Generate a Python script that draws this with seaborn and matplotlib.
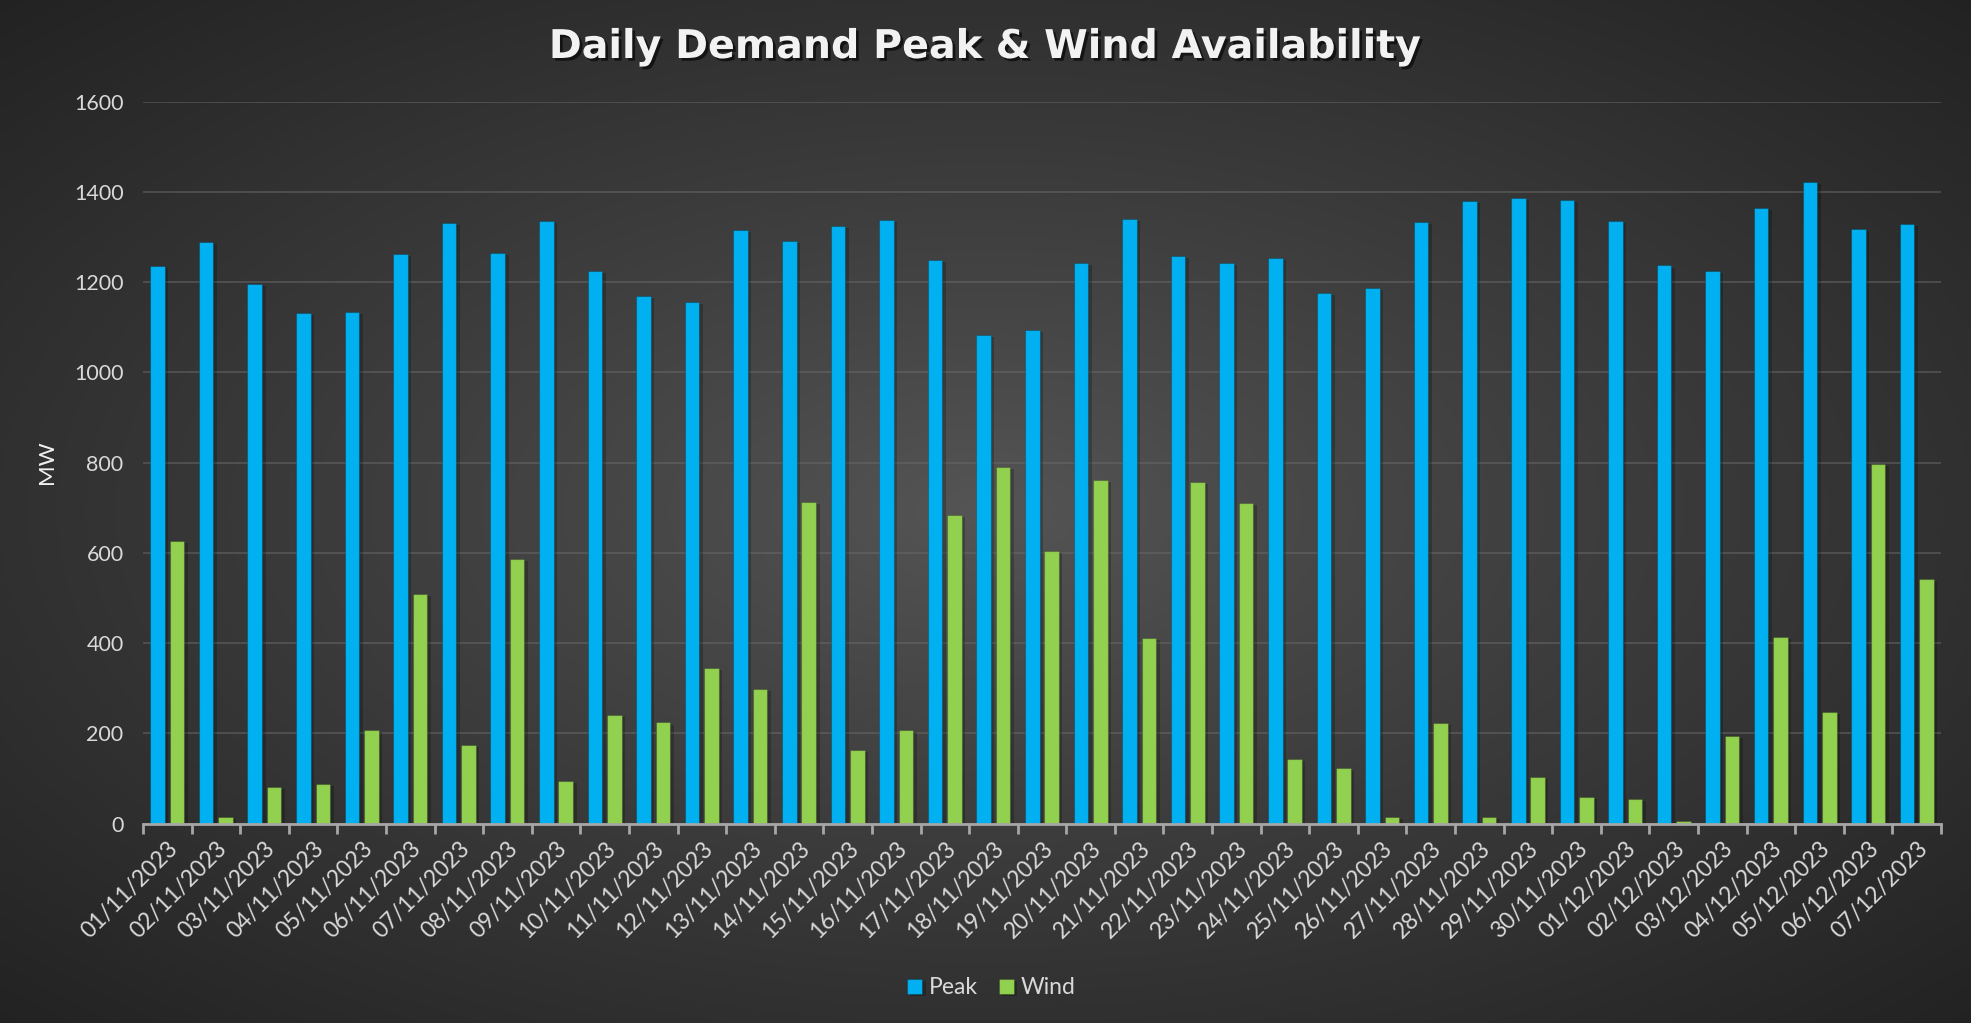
import numpy as np
import pandas as pd
import matplotlib
matplotlib.use("Agg")
import matplotlib.pyplot as plt
import matplotlib.patheffects as pe
from matplotlib.ticker import FixedLocator
import seaborn as sns

# ---- data ----
dates = ["01/11/2023", "02/11/2023", "03/11/2023", "04/11/2023", "05/11/2023",
         "06/11/2023", "07/11/2023", "08/11/2023", "09/11/2023", "10/11/2023",
         "11/11/2023", "12/11/2023", "13/11/2023", "14/11/2023", "15/11/2023",
         "16/11/2023", "17/11/2023", "18/11/2023", "19/11/2023", "20/11/2023",
         "21/11/2023", "22/11/2023", "23/11/2023", "24/11/2023", "25/11/2023",
         "26/11/2023", "27/11/2023", "28/11/2023", "29/11/2023", "30/11/2023",
         "01/12/2023", "02/12/2023", "03/12/2023", "04/12/2023", "05/12/2023",
         "06/12/2023", "07/12/2023"]
peak = [1235, 1289, 1196, 1131, 1133, 1263, 1332, 1265, 1336, 1225,
        1170, 1157, 1316, 1292, 1325, 1338, 1250, 1082, 1095, 1243,
        1340, 1258, 1243, 1253, 1176, 1187, 1334, 1380, 1387, 1382,
        1335, 1237, 1225, 1364, 1422, 1318, 1329]
wind = [627, 14, 82, 88, 208, 508, 175, 586, 94, 240,
        224, 345, 299, 712, 163, 207, 683, 790, 604, 762,
        412, 758, 710, 143, 122, 14, 222, 14, 104, 59,
        54, 5, 195, 413, 247, 797, 541]
series_names = ["Peak", "Wind"]
y_ticks = [0, 200, 400, 600, 800, 1000, 1200, 1400, 1600]
title = "Daily Demand Peak & Wind Availability"
y_label = "MW"

colors = {"Peak": "#00B0F0", "Wind": "#92D050"}

df = pd.DataFrame({
    "Date": dates * 2,
    "Series": ["Peak"] * len(dates) + ["Wind"] * len(dates),
    "MW": peak + wind,
})

sns.set_theme(style="dark")
plt.rcParams["font.family"] = ["Lato", "DejaVu Sans"]

W, H = 1971, 1023
fig = plt.figure(figsize=(W / 100, H / 100), dpi=100)

# ---- radial gradient background ----
bg = fig.add_axes([0, 0, 1, 1], zorder=-10)
yy, xx = np.mgrid[0:1:400j, 0:1:800j]
d = np.sqrt(((xx - 0.5) / 0.5) ** 2 + ((yy - 0.5) / 0.5) ** 2) / np.sqrt(2)
d = np.clip(d, 0, 1)
c_center = 0.335
c_edge = 0.135
val = c_center + (c_edge - c_center) * d ** 0.9
img = np.dstack([val, val, val])
bg.imshow(img, extent=[0, 1, 0, 1], aspect="auto", interpolation="bilinear")
bg.set_axis_off()

# ---- main axes ----
left, right = 143 / W, 1941 / W
top, bottom = 1 - 101.7 / H, 1 - 823.5 / H
ax = fig.add_axes([left, bottom, right - left, top - bottom])
ax.patch.set_alpha(0)

sns.barplot(data=df, x="Date", y="MW", hue="Series", hue_order=series_names,
            palette=colors, width=0.8, gap=0.25, errorbar=None,
            saturation=1, ax=ax, legend=True)

for p in ax.patches:
    p.set_edgecolor((0, 0, 0, 0.2))
    p.set_linewidth(0.8)
    p.set_path_effects([pe.SimplePatchShadow(offset=(2.5, -1.5), alpha=0.22,
                                             shadow_rgbFace="black"),
                        pe.Normal()])

ax.set_ylim(0, 1600)
ax.set_xlim(-0.5, len(dates) - 0.5)
ax.set_yticks(y_ticks)
ax.yaxis.grid(True, color="#6a6a6a", linewidth=1.3, alpha=0.55)
ax.xaxis.grid(False)
ax.set_axisbelow(True)

for s in ["top", "right", "left"]:
    ax.spines[s].set_visible(False)
ax.spines["bottom"].set_color("#a6a6a6")
ax.spines["bottom"].set_linewidth(2)

ax.tick_params(axis="y", colors="#d9d9d9", labelsize=15.5, length=0, pad=14)
ax.tick_params(axis="x", which="major", colors="#d9d9d9", labelsize=16.5,
               length=0, pad=10)
ax.xaxis.set_minor_locator(FixedLocator(np.arange(-0.5, len(dates), 1.0)))
ax.tick_params(axis="x", which="minor", length=7, width=2, color="#a6a6a6",
               bottom=True)
for lab in ax.get_xticklabels():
    lab.set_rotation(45)
    lab.set_ha("right")
    lab.set_rotation_mode("anchor")

ax.set_xlabel("")
ax.set_ylabel(y_label, color="#f2f2f2", fontsize=16, labelpad=12)

# ---- legend ----
handles, labels = ax.get_legend_handles_labels()
ax.get_legend().remove()
leg = fig.legend(handles, labels, loc="center", bbox_to_anchor=(0.503, 1 - 988 / H),
                 ncol=2, frameon=False, fontsize=16.5, handlelength=0.65,
                 handleheight=0.65, handletextpad=0.3, columnspacing=0.9)
for t in leg.get_texts():
    t.set_color("#d9d9d9")

# ---- title ----
fig.text(0.5, 1 - 47 / H, title, ha="center", va="center", color="#f2f2f2",
         fontsize=28.5, fontweight="bold", family=["DejaVu Sans"],
         path_effects=[pe.withSimplePatchShadow(offset=(2, -2), alpha=0.6,
                                                shadow_rgbFace="black")])

fig.savefig("out.png", dpi=100)
